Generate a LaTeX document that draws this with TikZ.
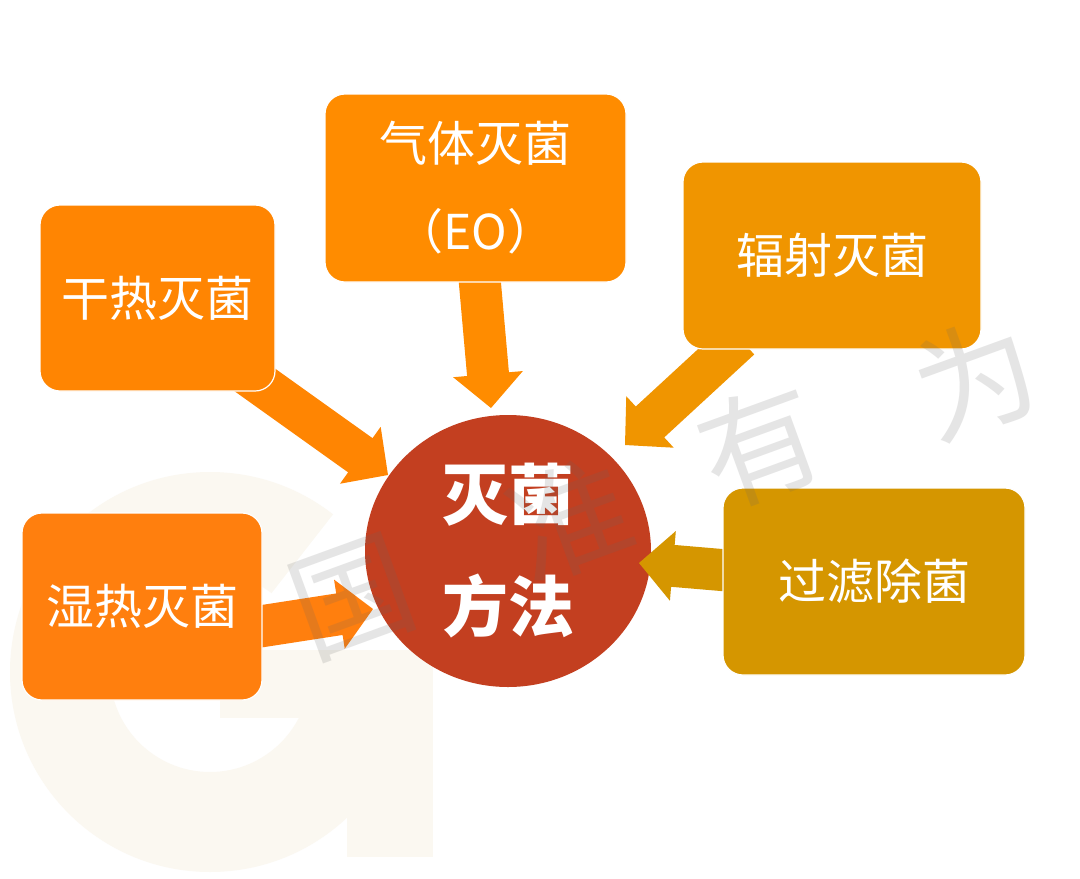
\documentclass[tikz,border=0pt]{standalone}
\usepackage{fontspec}
\newfontfamily\cjk{Noto Sans CJK SC}
\usetikzlibrary{calc,shapes.geometric}
\definecolor{cDry}{HTML}{FF8502}
\definecolor{cGas}{HTML}{FF8C00}
\definecolor{cRad}{HTML}{F09500}
\definecolor{cMoist}{HTML}{FF7F0E}
\definecolor{cFilt}{HTML}{D59600}
\definecolor{cHub}{HTML}{C33F20}
\definecolor{cLogo}{HTML}{FBF8F1}
\newcommand\sketcharrow[3]{%
  \coordinate (hb) at ($(#3)!34pt!(#2)$);
  \fill[#1] ($(#2)!21pt!90:(#3)$) -- ($(hb)!21pt!90:(#3)$) -- ($(hb)!35pt!90:(#3)$)
    -- (#3) -- ($(hb)!35pt!-90:(#3)$) -- ($(hb)!21pt!-90:(#3)$) -- ($(#2)!21pt!-90:(#3)$) -- cycle;}
\tikzset{
  box/.style={rectangle, draw=white, line width=1.2pt, rounded corners=20pt, text=white,
    font=\cjk\fontsize{48}{88}\selectfont, align=center, inner sep=0pt},
  hub/.style={ellipse, fill=cHub, text=white, font=\cjk\bfseries\fontsize{66}{112}\selectfont,
    align=center, minimum width=286pt, minimum height=272pt, inner sep=0pt},
  wm/.style={text=black!60, text opacity=0.17, font=\cjk\fontsize{120}{120}\selectfont, rotate=20, inner sep=0pt}
}
\begin{document}
\begin{tikzpicture}[x=1pt,y=-1pt]
\useasboundingbox (0,0) rectangle (1080,879);
\fill[white] (0,0) rectangle (1080,879);
% faint background logo
\fill[cLogo, even odd rule] (210,672) circle[radius=200] (210,672) circle[radius=100];
\fill[white] (210,672) -- (364,475) -- (470,475) -- (470,650) -- cycle;
\fill[cLogo] (220,650) rectangle (433,718);
\fill[cLogo] (347,650) rectangle (433,857);
% anchors of the block arrows
\coordinate (sDry) at (241.5,370.4);  \coordinate (tDry) at (388,475);
\coordinate (sGas) at (477,250);      \coordinate (tGas) at (491,408);
\coordinate (sRad) at (740,339);      \coordinate (tRad) at (625,445);
\coordinate (sMoist) at (234.7,630.4);\coordinate (tMoist) at (373,609);
\coordinate (sFilt) at (745,572);     \coordinate (tFilt) at (639,563);
% hub
\node[hub] (hub) at (508,551) {灭菌\\方法};
% arrows
\sketcharrow{cDry}{sDry}{tDry}
\sketcharrow{cGas}{sGas}{tGas}
\sketcharrow{cRad}{sRad}{tRad}
\sketcharrow{cMoist}{sMoist}{tMoist}
\sketcharrow{cFilt}{sFilt}{tFilt}
% boxes
\node[box, fill=cDry, minimum width=235pt, minimum height=186pt] (dry) at (157.5,298) {干热灭菌};
\node[box, fill=cGas, minimum width=301pt, minimum height=188pt] (gas) at (475.5,188) {气体灭菌\\（EO）};
\node[box, fill=cRad, minimum width=298pt, minimum height=187pt] (rad) at (832,255.5) {辐射灭菌};
\node[box, fill=cMoist, minimum width=240pt, minimum height=187pt] (moist) at (142,606.5) {湿热灭菌};
\node[box, fill=cFilt, minimum width=302pt, minimum height=187pt] (filt) at (874,581.5) {过滤除菌};
% watermark
\node[wm] (w1) at (352,598) {国};
\node[wm] (w2) at (570,520) {准};
\node[wm] (w3) at (760,445) {有};
\node[wm] (w4) at (975,378) {为};
\end{tikzpicture}
\end{document}
